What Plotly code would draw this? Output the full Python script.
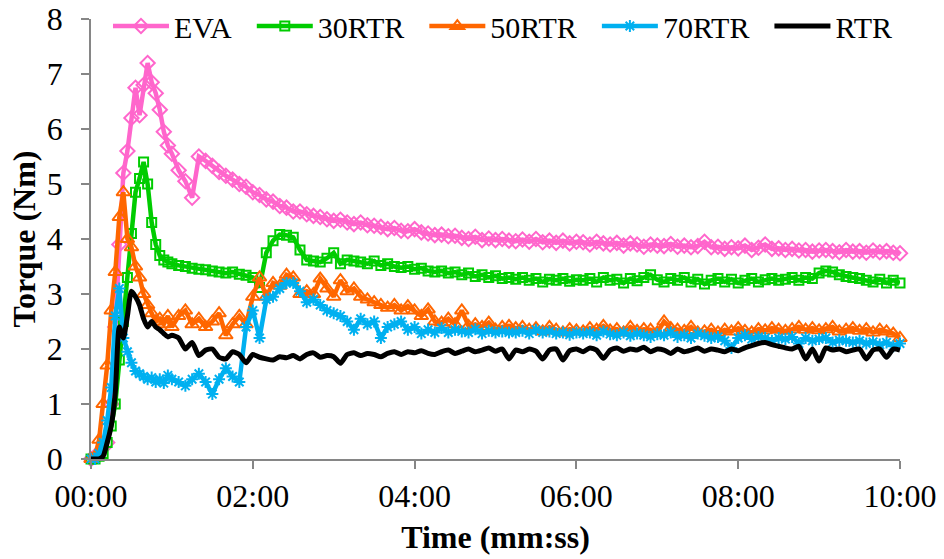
import plotly.graph_objects as go

# Time samples in seconds
time_s = list(range(0, 61, 3)) + list(range(65, 601, 5))

tick_vals = [0, 120, 240, 360, 480, 600]
tick_text = ["00:00", "02:00", "04:00", "06:00", "08:00", "10:00"]

eva = [0.0, 0.05, 0.1, 0.2, 0.3, 1.0, 2.4, 3.9, 5.2, 5.6, 6.2, 6.75, 6.25, 6.8, 7.2, 6.85, 6.65, 6.35, 5.95, 5.7, 5.55,
       5.25, 5.05, 4.75, 5.5, 5.42, 5.33, 5.22, 5.15, 5.08, 5.0,
       4.95, 4.85, 4.8, 4.72, 4.68, 4.6, 4.57, 4.5, 4.5, 4.45,
       4.42, 4.4, 4.36, 4.33, 4.35, 4.3, 4.27, 4.3, 4.25, 4.24,
       4.22, 4.18, 4.2, 4.15, 4.14, 4.18, 4.12, 4.1, 4.07, 4.08,
       4.05, 4.06, 4.02, 4.0, 4.04, 3.98, 4.01, 3.98, 4.0, 3.97,
       3.96, 3.99, 3.95, 4.0, 3.94, 3.97, 3.93, 3.97, 3.92, 3.95,
       3.94, 3.9, 3.95, 3.92, 3.9, 3.93, 3.88, 3.92, 3.9, 3.86,
       3.9, 3.88, 3.87, 3.91, 3.86, 3.88, 3.85, 3.87, 3.95, 3.85,
       3.86, 3.82, 3.85, 3.83, 3.88, 3.8, 3.84, 3.9, 3.82, 3.83,
       3.8, 3.82, 3.79, 3.8, 3.77, 3.79, 3.8, 3.78, 3.76, 3.8,
       3.77, 3.78, 3.75, 3.79, 3.76, 3.78, 3.75, 3.74]

rtr30 = [0.0, 0.0, 0.05, 0.1, 0.3, 0.6, 1.0, 1.8, 2.5, 3.3, 4.1, 4.85, 5.1, 5.4, 5.0, 4.3, 3.9, 3.7, 3.62, 3.58, 3.55,
         3.52, 3.5, 3.47, 3.45, 3.44, 3.42, 3.4, 3.38, 3.4, 3.36,
         3.34, 3.3, 3.12, 3.75, 3.97, 4.08, 4.07, 4.03, 3.8, 3.62,
         3.6, 3.58, 3.65, 3.75, 3.55, 3.62, 3.6, 3.58, 3.55, 3.6,
         3.52, 3.55, 3.5, 3.48, 3.5, 3.45, 3.47, 3.42, 3.4, 3.42,
         3.38, 3.4, 3.35, 3.38, 3.32, 3.35, 3.3, 3.33, 3.28, 3.3,
         3.27, 3.3, 3.25, 3.28, 3.22, 3.27, 3.25, 3.28, 3.23, 3.26,
         3.25, 3.28, 3.22, 3.3, 3.25, 3.27, 3.2, 3.28, 3.24, 3.3,
         3.35, 3.26, 3.22, 3.28, 3.25, 3.3, 3.22, 3.27, 3.18, 3.25,
         3.28, 3.22, 3.27, 3.2, 3.25, 3.28, 3.22, 3.26, 3.28, 3.25,
         3.27, 3.3, 3.25, 3.3, 3.28, 3.38, 3.42, 3.4, 3.35, 3.32,
         3.3, 3.28, 3.25, 3.22, 3.27, 3.2, 3.25, 3.2]

rtr50 = [0.0, 0.05, 0.35, 1.0, 1.7, 2.7, 3.4, 4.4, 4.85, 4.0, 3.85, 3.5, 3.3, 3.0, 2.8, 2.65, 2.5, 2.55, 2.45, 2.6, 2.4,
         2.6, 2.7, 2.45, 2.55, 2.4, 2.5, 2.65, 2.25, 2.45, 2.6,
         2.45, 2.95, 3.3, 2.95, 3.2, 3.15, 3.35, 3.3, 3.0, 3.05,
         3.0, 3.28, 3.1, 2.95, 3.25, 3.05, 3.1, 2.95, 2.9, 2.85,
         2.8, 2.75, 2.8, 2.7, 2.78, 2.7, 2.6, 2.72, 2.5, 2.48,
         2.55, 2.45, 2.7, 2.42, 2.45, 2.4, 2.48, 2.35, 2.4, 2.42,
         2.38, 2.4, 2.35, 2.38, 2.32, 2.4, 2.35, 2.3, 2.36, 2.34,
         2.32, 2.38, 2.35, 2.42, 2.34, 2.36, 2.3, 2.4, 2.33, 2.36,
         2.35, 2.3, 2.5, 2.38, 2.35, 2.33, 2.4, 2.3, 2.32, 2.35,
         2.3, 2.35, 2.32, 2.38, 2.33, 2.3, 2.36, 2.34, 2.38, 2.35,
         2.33, 2.36, 2.4, 2.35, 2.38, 2.34, 2.36, 2.4, 2.32, 2.35,
         2.38, 2.33, 2.36, 2.3, 2.35, 2.32, 2.28, 2.2]

rtr70 = [0.0, 0.0, 0.1, 0.3, 0.7, 1.3, 2.6, 3.1, 2.2, 1.95, 1.75, 1.6, 1.55, 1.5, 1.45, 1.48, 1.4, 1.45, 1.38, 1.52, 1.45,
         1.4, 1.33, 1.45, 1.55, 1.4, 1.18, 1.45, 1.65, 1.5, 1.4,
         2.4, 2.7, 2.2, 2.9, 2.95, 3.1, 3.2, 3.2, 3.05, 2.85,
         2.9, 2.8, 2.7, 2.65, 2.6, 2.5, 2.35, 2.55, 2.45, 2.5,
         2.2, 2.4, 2.45, 2.5, 2.35, 2.4, 2.28, 2.35, 2.3, 2.38,
         2.3, 2.35, 2.32, 2.3, 2.36, 2.28, 2.33, 2.3, 2.32, 2.3,
         2.3, 2.33, 2.28, 2.35, 2.3, 2.32, 2.28, 2.3, 2.26, 2.3,
         2.28, 2.3, 2.25, 2.32, 2.27, 2.25, 2.3, 2.24, 2.28, 2.25,
         2.22, 2.27, 2.25, 2.3, 2.22, 2.25, 2.2, 2.28, 2.24, 2.2,
         2.22, 2.15, 2.02, 2.2, 2.25, 2.18, 2.22, 2.2, 2.15, 2.2,
         2.18, 2.22, 2.1, 2.2, 2.15, 2.18, 2.2, 2.12, 2.16, 2.15,
         2.12, 2.15, 2.1, 2.13, 2.08, 2.12, 2.05, 2.1]

rtr = [0.0, 0.0, 0.0, 0.05, 0.3, 0.6, 1.2, 2.4, 2.2, 2.6, 3.05, 2.95, 2.8, 2.55, 2.4, 2.5, 2.4, 2.35, 2.28, 2.22, 2.25,
       2.2, 2.0, 2.12, 1.88, 1.98, 2.0, 1.85, 1.82, 1.95, 1.9,
       1.75, 1.9, 1.85, 1.82, 1.8, 1.86, 1.84, 1.88, 1.82, 1.9,
       1.93, 1.85, 1.88, 1.86, 1.74, 1.9, 1.93, 1.88, 1.92, 1.9,
       1.86, 1.92, 1.95, 1.9, 1.95, 1.93, 1.97, 1.92, 1.9, 1.95,
       1.98, 1.92, 1.96, 2.0, 1.95, 1.98, 2.02, 1.96, 2.0, 1.82,
       1.98, 1.95, 2.0, 1.96, 1.82, 1.98, 2.0, 1.8, 1.97, 2.0,
       1.95, 2.02, 1.98, 1.83, 1.98, 2.02, 1.96, 2.0, 1.98, 2.03,
       1.95, 2.0, 1.98, 1.92, 2.0, 1.95, 1.98, 2.02, 1.96, 2.0,
       1.98, 1.95, 2.0, 1.97, 2.02, 2.06, 2.1, 2.12, 2.08, 2.05,
       2.02, 2.0, 2.05, 1.82, 2.0, 1.78, 2.02, 1.98, 2.0, 1.95,
       1.98, 2.0, 1.82, 1.98, 2.0, 1.85, 2.0, 1.98]

series_names = ["EVA", "30RTR", "50RTR", "70RTR", "RTR"]
series_values = [eva, rtr30, rtr50, rtr70, rtr]
colors = ["#FF66CC", "#00CC00", "#FF6600", "#00B0F0", "#000000"]
symbols = ["diamond-open", "square-open", "triangle-up-open", "asterisk-open", None]
sizes = [11, 9, 12, 10, 0]

for name, vals in zip(series_names, series_values):
    if len(vals) != len(time_s):
        raise ValueError(f"{name}: {len(vals)} values vs {len(time_s)} times")

PAD = "\u00a0\u00a0"  # spacing after legend labels

fig = go.Figure()
for name, vals, color, sym, size in zip(series_names, series_values, colors, symbols, sizes):
    if sym:
        fig.add_trace(go.Scatter(
            x=time_s, y=vals, name=name + PAD, mode="lines+markers",
            line=dict(color=color, width=4.5),
            marker=dict(symbol=sym, size=size, color=color, line=dict(color=color, width=2)),
            cliponaxis=False,
        ))
    else:
        fig.add_trace(go.Scatter(
            x=time_s, y=vals, name=name, mode="lines",
            line=dict(color=color, width=5, shape="spline", smoothing=0.6),
            cliponaxis=False,
        ))

font_family = "Liberation Serif"
fig.update_layout(
    width=944, height=559,
    margin=dict(l=91, r=44, t=19, b=100, autoexpand=False),
    paper_bgcolor="white", plot_bgcolor="white",
    font=dict(family=font_family, size=32, color="black"),
    showlegend=True,
    legend=dict(
        orientation="h", x=0.021, y=0.984, xanchor="left", yanchor="middle",
        font=dict(family=font_family, size=30, color="black"),
        bgcolor="rgba(0,0,0,0)", itemwidth=56, tracegroupgap=0,
    ),
    xaxis=dict(
        range=[0, 600], tickvals=tick_vals, ticktext=tick_text,
        showgrid=False, zeroline=False, automargin=False,
        showline=True, linecolor="#868686", linewidth=1.5,
        ticks="outside", ticklen=8, tickcolor="#868686", tickwidth=1.5,
        tickfont=dict(family=font_family, size=32),
        title=dict(text="<b>Time (mm:ss)</b>", font=dict(family=font_family, size=32), standoff=12),
    ),
    yaxis=dict(
        range=[0, 8], tickvals=list(range(0, 9)),
        showgrid=False, zeroline=False, automargin=False,
        showline=True, linecolor="#868686", linewidth=1.5,
        ticks="outside", ticklen=8, tickcolor="#868686", tickwidth=1.5,
        tickfont=dict(family=font_family, size=32),
        ticklabelstandoff=12,
        title=dict(text="<b>Torque (Nm)</b>", font=dict(family=font_family, size=32), standoff=2),
    ),
)

fig.write_html("out.html")
